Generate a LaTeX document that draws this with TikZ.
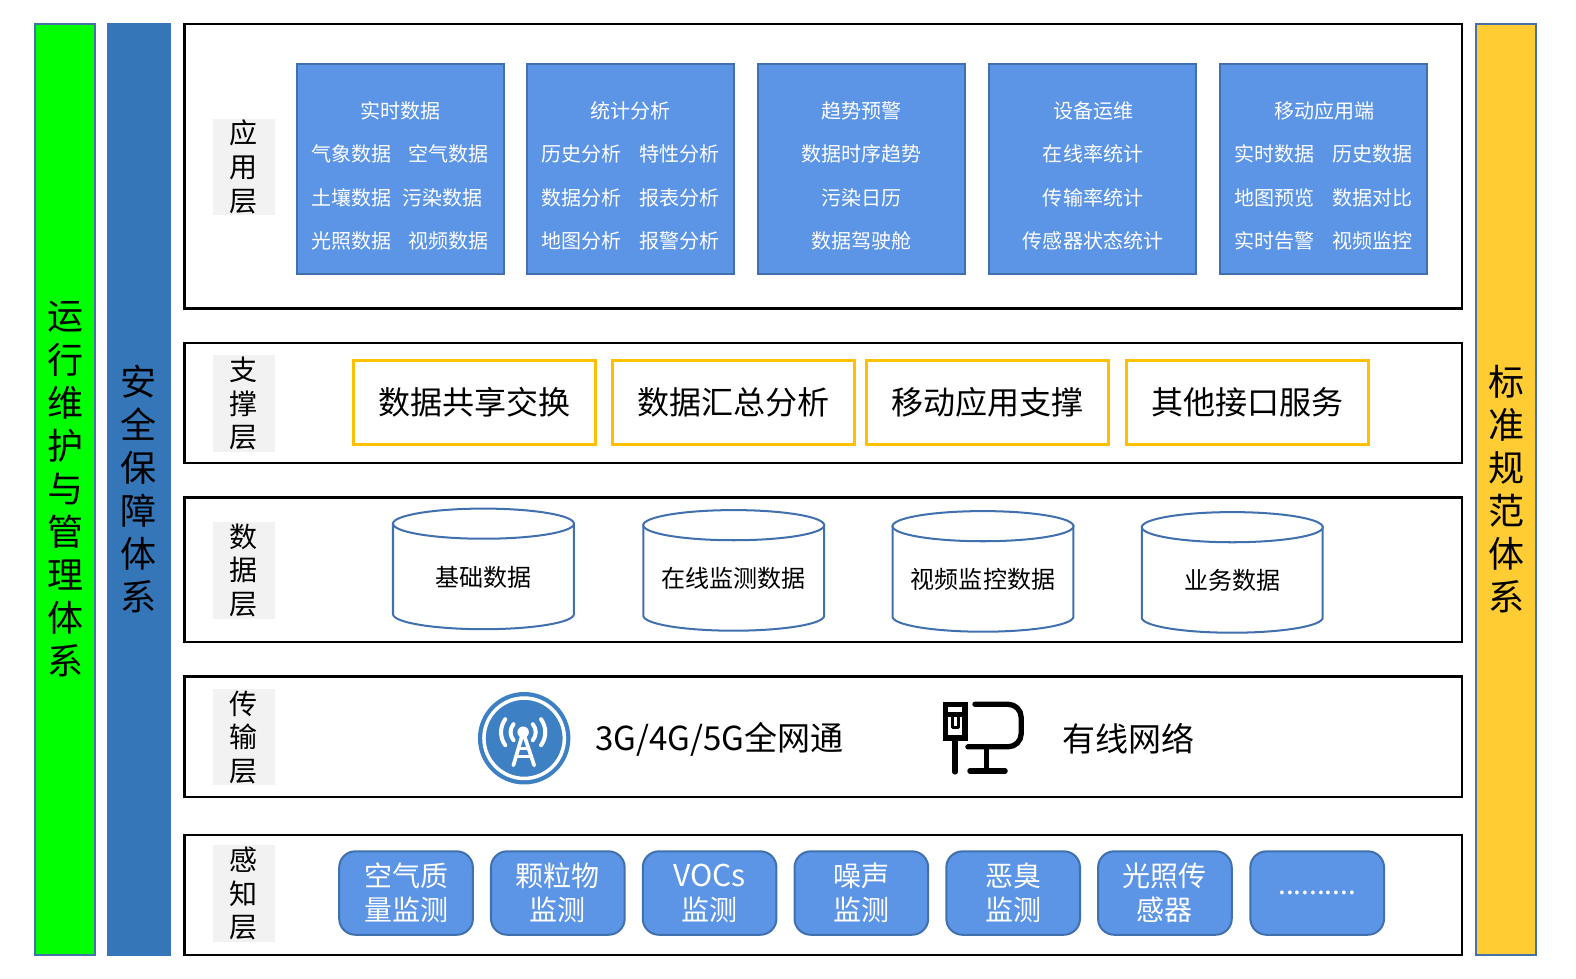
\documentclass[tikz,border=0pt]{standalone}
\usepackage{fontspec}
\setmainfont{Noto Sans CJK SC}
\definecolor{barline}{HTML}{4472A8}
\definecolor{bargreen}{HTML}{00FF00}
\definecolor{barblue}{HTML}{3476B8}
\definecolor{baryellow}{HTML}{FFCC33}
\definecolor{panelblue}{HTML}{5C94E6}
\definecolor{panelline}{HTML}{4070AE}
\definecolor{labelgray}{HTML}{F2F2F2}
\definecolor{boxyellow}{HTML}{FFC000}
\definecolor{iconblue}{HTML}{3D80C3}
\tikzset{
  sidebar/.style={draw=barline,line width=2bp,minimum width=60bp,minimum height=926bp,inner sep=0pt,align=center,font=\fontsize{36}{43}\selectfont},
  layerbox/.style={draw=black,line width=2.2bp,minimum width=1271bp,inner sep=0pt},
  layerlabel/.style={fill=labelgray,minimum width=62bp,minimum height=96bp,inner sep=0pt,align=center,font=\fontsize{28}{33.5}\selectfont},
  appbox/.style={draw=panelline,line width=2bp,fill=panelblue,minimum width=206bp,minimum height=209bp,inner sep=0pt},
  apptext/.style={text=white,inner sep=0pt,font=\fontsize{20}{24}\selectfont},
  supportbox/.style={draw=boxyellow,line width=3bp,minimum width=241bp,minimum height=83bp,inner sep=0pt,font=\fontsize{32}{38}\selectfont},
  dbtext/.style={inner sep=0pt,font=\fontsize{24}{28}\selectfont},
  nettext/.style={inner sep=0pt,font=\fontsize{33}{38}\selectfont},
  sensorbox/.style={draw=panelline,line width=2bp,fill=panelblue,rounded corners=16bp,minimum width=133bp,minimum height=83bp,inner sep=0pt,text=white,align=center,font=\fontsize{28}{34}\selectfont},
  dbline/.style={draw=panelline,line width=2bp},
  wireline/.style={draw=black,line width=5.3bp,line cap=round,line join=round},
  towerline/.style={white,line width=3.7bp,line cap=round}
}
\begin{document}
\begin{tikzpicture}[x=1bp,y=-1bp]
\useasboundingbox (0,0) rectangle (1568,974);
\node[sidebar,fill=bargreen](opsbar) at (65,486.8){运\\行\\维\\护\\与\\管\\理\\体\\系};
\node[sidebar,fill=barblue,draw=barblue,minimum width=61bp](safebar) at (138.3,486.8){安\\全\\保\\障\\体\\系};
\node[sidebar,fill=baryellow](stdbar) at (1498.5,486.8){标\\准\\规\\范\\体\\系};
\foreach \n/\cy/\h in {app/165.5/283,sup/401/120,dat/567/144,net/733/120,sen/890.5/119}{
  \node[layerbox,minimum height=\h bp](\n box) at (819,\cy){};
}
\node[layerlabel](applabel) at (242.5,166){应\\用\\层};
\node[layerlabel](suplabel) at (242.5,401.5){支\\撑\\层};
\node[layerlabel](datlabel) at (242.5,567.5){数\\据\\层};
\node[layerlabel](netlabel) at (242.5,733.5){传\\输\\层};
\node[layerlabel](senlabel) at (242.5,889){感\\知\\层};
\foreach \n/\cx in {a/398.5,b/627.5,c/857.5,d/1087,e/1317}{
  \node[appbox](app\n) at (\cx,168){};
}
\node[apptext](a0) at (398.5,110.5){实时数据};
\node[apptext](a1) at (349.5,153.5){气象数据};
\node[apptext](a2) at (446.5,153.5){空气数据};
\node[apptext](a3) at (349.5,196.5){土壤数据};
\node[apptext](a4) at (440.5,196.5){污染数据};
\node[apptext](a5) at (349.5,239.5){光照数据};
\node[apptext](a6) at (446.5,239.5){视频数据};
\node[apptext](b0) at (627.5,110.5){统计分析};
\node[apptext](b1) at (579,153.5){历史分析};
\node[apptext](b2) at (676.5,153.5){特性分析};
\node[apptext](b3) at (579,196.5){数据分析};
\node[apptext](b4) at (676.5,196.5){报表分析};
\node[apptext](b5) at (579,239.5){地图分析};
\node[apptext](b6) at (676.5,239.5){报警分析};
\node[apptext](c0) at (857.5,110.5){趋势预警};
\node[apptext](c1) at (857.5,153.5){数据时序趋势};
\node[apptext](c2) at (857.5,196.5){污染日历};
\node[apptext](c3) at (857.5,239.5){数据驾驶舱};
\node[apptext](d0) at (1087.5,110.5){设备运维};
\node[apptext](d1) at (1087.5,153.5){在线率统计};
\node[apptext](d2) at (1087.5,196.5){传输率统计};
\node[apptext](d3) at (1087.5,239.5){传感器状态统计};
\node[apptext](e0) at (1317.5,110.5){移动应用端};
\node[apptext](e1) at (1268,153.5){实时数据};
\node[apptext](e2) at (1365.5,153.5){历史数据};
\node[apptext](e3) at (1268,196.5){地图预览};
\node[apptext](e4) at (1365.5,196.5){数据对比};
\node[apptext](e5) at (1268,239.5){实时告警};
\node[apptext](e6) at (1365.5,239.5){视频监控};
\foreach \n/\cx/\t in {s1/472/数据共享交换,s2/730/数据汇总分析,s3/982.5/移动应用支撑,s4/1241/其他接口服务}{
  \node[supportbox](\n) at (\cx,400.5){\t};
}
\foreach \n/\cx/\cy/\t in {db1/481/566/基础数据,db2/730/567.5/在线监测数据,db3/978/568.5/视频监控数据,db4/1226/569.5/业务数据}{
  \draw[dbline,fill=white] (\cx-90,\cy-45) -- ++(0,90) arc (180:0:90 and 15) -- ++(0,-90) -- cycle;
  \draw[dbline,fill=white] (\cx,\cy-45) ellipse (90 and 15);
  \node[dbtext](\n) at (\cx,\cy+8){\t};
}
\fill[iconblue] (521.5,734.5) circle (46);
\draw[white,line width=3.5bp] (521.5,734.5) circle (40);
\coordinate (towerhead) at (520.5,728.5);
\fill[white] (towerhead) circle (5.7);
\draw[towerline] (towerhead) -- (510.8,761.5) (towerhead) -- (531.5,761.5);
\draw[white,line width=3bp] (515.5,745) -- (526,745) (513,752.5) -- (528.5,752.5);
\draw[towerline,line width=4bp] (towerhead)++(-40:12.5) arc (-40:40:12.5);
\draw[towerline,line width=4bp] (towerhead)++(140:12.5) arc (140:220:12.5);
\draw[towerline,line width=4bp] (towerhead)++(-36:22) arc (-36:36:22);
\draw[towerline,line width=4bp] (towerhead)++(144:22) arc (144:216:22);
\node[nettext](wireless) at (716,735.5){3G/4G/5G全网通};
\node[nettext](wired) at (1123,734.5){有线网络};
\draw[wireline,line cap=butt,line join=miter] (940.7,700.7) rectangle (960,734.4);
\draw[wireline,line cap=butt] (940.7,711) -- (960,711);
\draw[wireline,line width=3bp,line cap=butt] (948,711) -- (948,724) -- (953.7,724) -- (953.7,711);
\draw[wireline] (950.3,734.4) -- (950.3,768);
\draw[wireline,rounded corners=13bp] (970,700.7) -- (1016,700.7) -- (1016,743) -- (963,743);
\draw[wireline,line cap=butt] (981.3,743) -- (981.3,767);
\draw[wireline] (965,767) -- (1000,767);
\foreach \n/\cx/\t in {p1/404/{空气质\\量监测},p2/555/{颗粒物\\监测},p3/706/{\fontsize{30}{34}\selectfont VOCs\\监测},p4/857/{噪声\\监测},p5/1008/{恶臭\\监测},p6/1159/{光照传\\感器}}{
  \node[sensorbox](\n) at (\cx,888.5){\t};
}
\node[sensorbox](p7) at (1310.5,888.5){..........};
\end{tikzpicture}
\end{document}
